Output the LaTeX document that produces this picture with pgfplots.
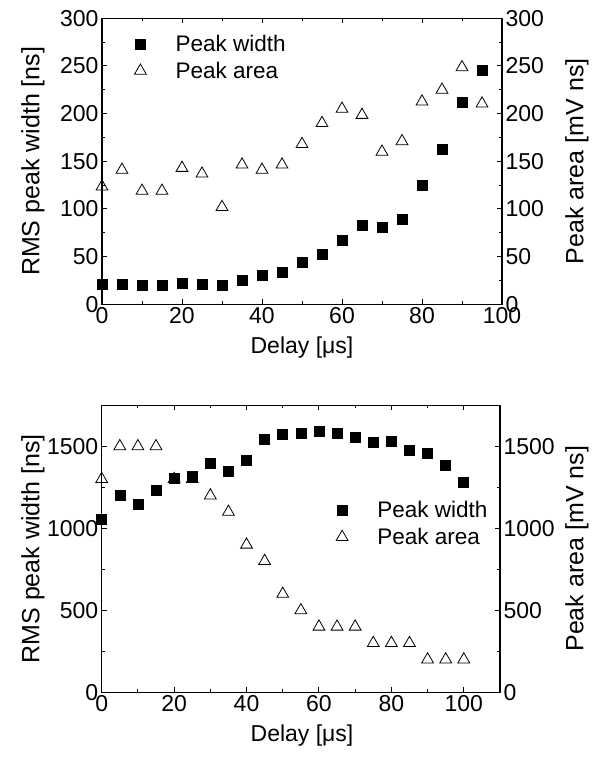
\documentclass[border=0pt]{standalone}
\usepackage{fontspec}
\setmainfont{Liberation Sans}
\usepackage{pgfplots}
\pgfplotsset{compat=1.18}

\pgfplotsset{
  fig/.style={
    scale only axis,
    anchor=south west,
    tick align=inside,
    major tick length=5pt,
    minor tick length=3pt,
    minor tick num=1,
    axis line style={line width=1.2pt},
    every tick/.style={black, line width=1pt},
    /pgf/number format/assume math mode=true,
    /pgf/number format/1000 sep={},
    tick label style={font=\fontsize{23}{27}\selectfont},
    xlabel style={font=\fontsize{23}{27}\selectfont},
    ylabel style={font=\fontsize{25}{29}\selectfont},
    legend style={font=\fontsize{22.5}{27}\selectfont, draw=none, fill=none,
      legend cell align=left, row sep=5pt},
    legend image code/.code={%
      \draw[#1] plot coordinates {(0pt,0pt)};
      \path (-8pt,0pt) (33pt,0pt);},
  },
  pw/.style={only marks, mark=square*, mark size=5pt,
    mark options={fill=black, draw=black, line width=0.6pt}},
  pa/.style={only marks, mark=triangle, mark size=6.8pt,
    mark options={draw=black, line width=0.8pt}},
}

\begin{document}
\begin{tikzpicture}
\useasboundingbox (0pt,0pt) rectangle (597pt,-759pt);

% ---- top panel ----
\begin{axis}[fig,
  at={(102pt,-304.3pt)}, width=400pt, height=286pt,
  xmin=0, xmax=100, ymin=0, ymax=300,
  xtick={0,20,...,100}, ytick={0,50,...,300},
  xtick pos=both, ytick pos=left,
  xlabel={Delay [μs]}, ylabel={RMS peak width [ns]},
  xlabel style={at={(axis description cs:0.5,-0.15)}, anchor=center},
  ylabel style={at={(axis description cs:-0.1725,0.5)}, anchor=center},
  legend style={at={(axis description cs:0.0675,0.956)}, anchor=north west},
]
\addplot[pw] coordinates {
  (0,21.3) (5,21) (10,20) (15,20) (20,22.4) (25,20.6) (30,19.6)
  (35,25.5) (40,30.8) (45,33.2) (50,44) (55,52) (60,66.8) (65,82.5)
  (70,80.4) (75,89) (80,125) (85,163) (90,212) (95,245.5)};
\addlegendentry{Peak width}
\addlegendimage{pa}
\addlegendentry{Peak area}
\end{axis}

\begin{axis}[fig,
  at={(102pt,-304.3pt)}, width=400pt, height=286pt,
  xmin=0, xmax=100, ymin=0, ymax=300,
  ytick={0,50,...,300},
  axis x line=none, axis y line*=right,
  ylabel={Peak area [mV ns]},
  ylabel style={at={(axis description cs:1.1875,0.5)}, anchor=center},
]
\addplot[pa] coordinates {
  (0,123.4) (5,141) (10,119) (15,119) (20,143) (25,137) (30,102)
  (35,146.5) (40,141) (45,146.5) (50,168) (55,190) (60,205) (65,198.6)
  (70,160) (75,171) (80,212.6) (85,225) (90,248.6) (95,210.5)};
\end{axis}

% ---- bottom panel ----
\begin{axis}[fig,
  at={(101.7pt,-692.3pt)}, width=398.3pt, height=287pt,
  clip=false,
  xmin=0, xmax=110, ymin=0, ymax=1750,
  xtick={0,20,...,100}, ytick={0,500,1000,1500},
  xtick pos=both, ytick pos=left,
  xlabel={Delay [μs]}, ylabel={RMS peak width [ns]},
  xlabel style={at={(axis description cs:0.503,-0.149)}, anchor=center},
  ylabel style={at={(axis description cs:-0.1725,0.5)}, anchor=center},
  legend style={at={(axis description cs:0.575,0.68)}, anchor=north west},
]
\addplot[pw] coordinates {
  (0,1052) (5,1201) (10,1144) (15,1233) (20,1305) (25,1317) (30,1394)
  (35,1347) (40,1416) (45,1543) (50,1575) (55,1577) (60,1590) (65,1580)
  (70,1557) (75,1522) (80,1528) (85,1478) (90,1459) (95,1382) (100,1278)};
\addlegendentry{Peak width}
\addlegendimage{pa}
\addlegendentry{Peak area}
\end{axis}

\begin{axis}[fig,
  at={(101.7pt,-692.3pt)}, width=398.3pt, height=287pt,
  clip=false,
  xmin=0, xmax=110, ymin=0, ymax=1750,
  ytick={0,500,1000,1500},
  axis x line=none, axis y line*=right,
  ylabel={Peak area [mV ns]},
  ylabel style={at={(axis description cs:1.193,0.5)}, anchor=center},
]
\addplot[pa] coordinates {
  (0,1300) (5,1500) (10,1500) (15,1500) (20,1300) (25,1300) (30,1200)
  (35,1100) (40,900) (45,800) (50,600) (55,500) (60,400) (65,400)
  (70,400) (75,300) (80,300) (85,300) (90,200) (95,200) (100,200)};
\end{axis}
\end{tikzpicture}
\end{document}
